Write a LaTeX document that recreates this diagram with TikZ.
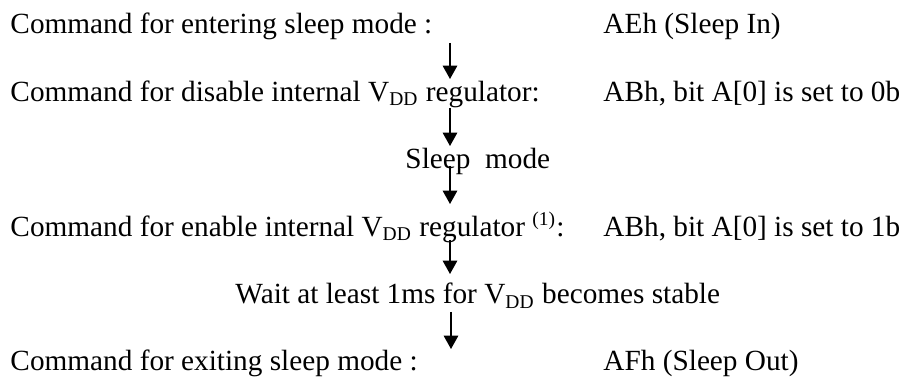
\documentclass[tikz,border=0pt]{standalone}
\usepackage{fontspec}
\setmainfont{Liberation Serif}
\usetikzlibrary{arrows.meta}
\usetikzlibrary{positioning}

\begin{document}
\begin{tikzpicture}[x=0.41pt,y=-0.41pt,
    txt/.style={anchor=base west,inner sep=0pt,font=\fontsize{12}{14}\selectfont},
    flow/.style={line width=0.5pt,-{Triangle[length=5.5pt,width=6pt]}}]
      \useasboundingbox (0,0) rectangle (905,377);

      \node[txt] (enter) at (10,34) {Command for entering sleep mode :};
      \node[txt] (enterh) at (603,34) {AEh (Sleep In)};

      \node[txt] (disable) at (10,101.5) {Command for disable internal V\textsubscript{DD} regulator:};
      \node[txt] (disableh) at (603,101.5) {ABh, bit A[0] is set to 0b};

      \node[txt] (sleep) at (405,169) {Sleep\ \ mode};

      \node[txt] (enable) at (10,236.5) {Command for enable internal V\textsubscript{DD} regulator \textsuperscript{(1)}:};
      \node[txt] (enableh) at (603,236.5) {ABh, bit A[0] is set to 1b};

      \node[txt] (wait) at (235,304) {Wait at least 1ms for V\textsubscript{DD} becomes stable};

      \node[txt] (exit) at (10,371) {Command for exiting sleep mode :};
      \node[txt] (exith) at (603,371) {AFh (Sleep Out)};

      \coordinate (t1) at (450,43);  \coordinate (h1) at (450,79);
      \coordinate (t2) at (450,108); \coordinate (h2) at (450,146);
      \coordinate (t3) at (450,166); \coordinate (h3) at (450,204);
      \coordinate (t4) at (450,240); \coordinate (h4) at (450,274);
      \coordinate (t5) at (451,312); \coordinate (h5) at (451,349);

      \draw[flow] (t1) -- (h1);
      \draw[flow] (t2) -- (h2);
      \draw[flow] (t3) -- (h3);
      \draw[flow] (t4) -- (h4);
      \draw[flow] (t5) -- (h5);
    \end{tikzpicture}
\end{document}
